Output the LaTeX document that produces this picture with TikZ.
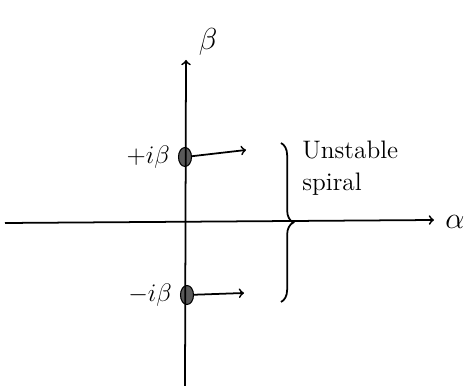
\documentclass[tikz,border=0pt]{standalone}
\usetikzlibrary{positioning,shapes.geometric,decorations.pathreplacing}
\begin{document}
\begin{tikzpicture}[->, semithick, x=0.02cm, y=-0.02cm, every node/.style={scale=1}]
    \tikzset{pole/.style={draw=black,fill=black!65,ellipse,minimum width=0.26cm,minimum height=0.38cm,inner sep=0pt}};
    \tikzset{lbl/.style={font=\Large}};
    \useasboundingbox (0,0) rectangle (474,391);
    \coordinate (vB) at (185,386);
    \coordinate (vT) at (186,60);
    \coordinate (hL) at (5,223);
    \coordinate (hR) at (434,220);
    \node[pole] (pU) at (185,157) {};
    \node[pole] (pD) at (187,295) {};
    \coordinate (aU) at (246,150);
    \coordinate (aD) at (244,293);
    \node[lbl, left=1pt of pU] (lU) {$+i\beta$};
    \node[lbl, left=1pt of pD] (lD) {$-i\beta$};
    \node[font=\LARGE] (beta) at (208,42) {$\beta$};
    \node[font=\LARGE] (alpha) at (455,222) {$\alpha$};
    \node[lbl, align=left, anchor=west] (txt) at (296,168) {Unstable\\spiral};
    \coordinate (bT) at (281,143);
    \coordinate (bD) at (281,302);
    {
      \path[line width=1pt]
        (vB) edge (vT)
        (hL) edge (hR)
        (pU) edge (aU)
        (pD) edge (aD)
        ;
      }
    \draw[-, line width=1pt, decorate, decoration={brace, amplitude=7pt}] (bT) -- (bD);
    \end{tikzpicture}
\end{document}
